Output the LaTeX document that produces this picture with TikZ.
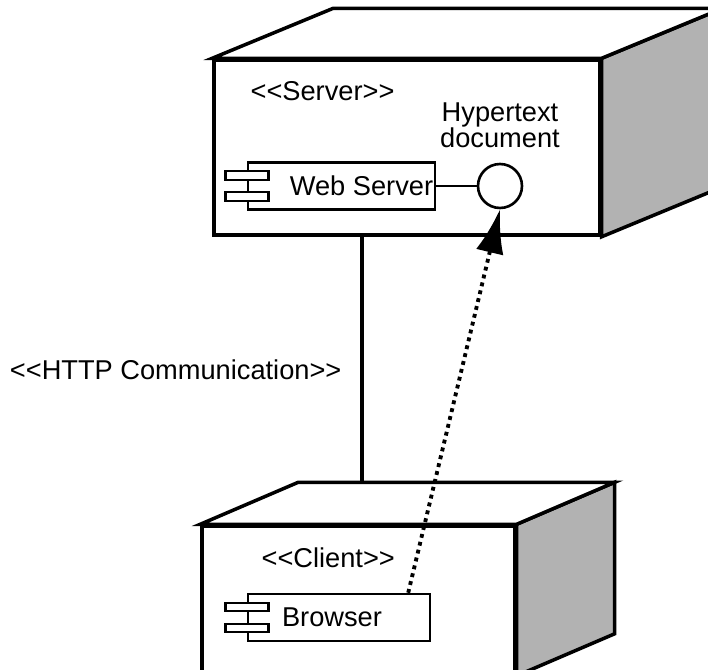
\documentclass[tikz,border=0pt]{standalone}
\usepackage{fontspec}
\setmainfont{Liberation Sans}
\usetikzlibrary{arrows.meta,positioning}
\tikzset{%
  devface/.style={draw, line width=2pt, fill=white, inner sep=0pt},
  devside/.style={devface, fill=black!30},
  compbox/.style={draw, line width=1.4pt, fill=white, minimum height=0.94cm, inner sep=0pt},
  comptab/.style={draw, line width=1.4pt, fill=white, minimum width=0.86cm, minimum height=0.17cm, inner sep=0pt},
  stereo/.style={inner sep=0pt},
  port/.style={circle, draw, line width=1.5pt, fill=white, minimum size=0.88cm, inner sep=0pt},
  wire/.style={draw, line width=1.5pt},
  link/.style={draw, line width=1.8pt},
  dep/.style={draw, line width=2.2pt, dash pattern=on 2.2pt off 2.4pt, -{Latex[length=0.88cm, width=0.56cm]}},
}
\newcommand{\stereotype}[1]{<\kern0pt<#1>\kern0pt>}
\newcommand{\devicebox}[3]{%
  \draw [devside] (#1.north east) -- ++(#2,#3) -- ([shift={(#2,#3)}]#1.south east) -- (#1.south east) -- cycle;
  \draw [devface] (#1.north west) -- ++(#2,#3) coordinate (#1-back) -- ([shift={(#2,#3)}]#1.north east) -- (#1.north east) -- cycle;}

\begin{document}
\begin{tikzpicture}[x=0.02cm, y=-0.02cm, font=\fontsize{15.5}{14.5}\selectfont]
  \useasboundingbox (0,0) rectangle (708,670);

  % server
  \node (srv) [devface, minimum width=7.72cm, minimum height=3.5cm] at (407,147.5) {};
  \devicebox{srv}{121}{-50}
  \node (srvlbl) [stereo, anchor=west] at ([shift={(38,33)}]srv.north west) {\stereotype{Server}};

  \node (websrv) [compbox, minimum width=3.74cm, label={[xshift=0.4cm]center:Web Server}] at (341.5,186) {};
  \node (websrv-t1) [comptab, yshift=0.21cm] at (websrv.west) {};
  \node (websrv-t2) [comptab, yshift=-0.21cm] at (websrv.west) {};

  \node (doc) [port] at (500,186) {};
  \node (doclbl) [above=0.3cm of doc, align=center, inner sep=0pt] {Hypertext\\document};
  \path [wire] (websrv.east) -- (doc.west);

  % client
  \node (cli) [devface, minimum width=6.26cm, minimum height=2.96cm] at (358.5,600) {};
  \devicebox{cli}{98}{-42}
  \node (clilbl) [stereo, anchor=west] at ([shift={(61,34)}]cli.north west) {\stereotype{Client}};

  \node (browser) [compbox, minimum width=3.64cm, label={[xshift=-0.14cm]center:Browser}] at (339,617.5) {};
  \node (browser-t1) [comptab, yshift=0.21cm] at (browser.west) {};
  \node (browser-t2) [comptab, yshift=-0.21cm] at (browser.west) {};

  % connectors
  \coordinate (httpx) at (362,0);
  \path [link] (srv.south -| httpx) -- node [pos=0.54, left=0.38cm, inner sep=0pt] (httplbl) {\stereotype{HTTP Communication}} (cli-back -| httpx);
  \path [dep] ([xshift=-0.46cm]browser.north east) -- (doc.south);
\end{tikzpicture}
\end{document}
